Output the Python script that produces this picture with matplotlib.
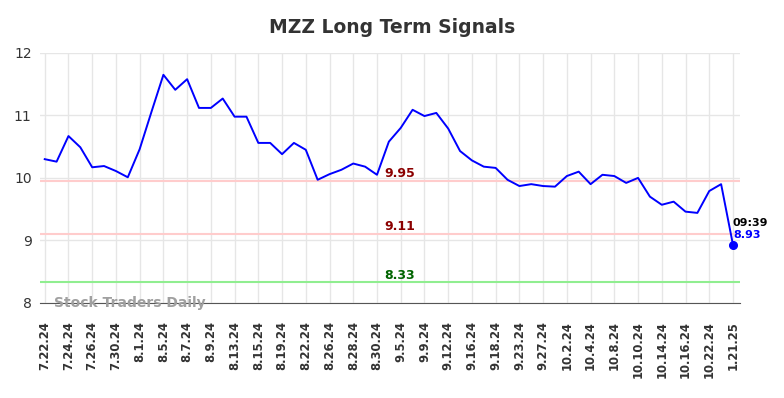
import numpy as np
import matplotlib
matplotlib.use("Agg")
import matplotlib.pyplot as plt

# ----------------------------------------------------------------
# data

prices = [10.30, 10.26, 10.67, 10.49, 10.17, 10.19, 10.11, 10.01, 10.46, 11.06,
          11.65, 11.41, 11.58, 11.12, 11.12, 11.27, 10.98, 10.98, 10.56, 10.56,
          10.38, 10.56, 10.45, 9.97, 10.06, 10.13, 10.23, 10.18, 10.05, 10.58,
          10.80, 11.09, 10.99, 11.04, 10.79, 10.43, 10.28, 10.18, 10.16, 9.97,
          9.87, 9.90, 9.87, 9.86, 10.03, 10.10, 9.90, 10.05, 10.03, 9.92,
          10.00, 9.70, 9.57, 9.62, 9.46, 9.44, 9.79, 9.90, 8.93]

tick_labels = ["7.22.24", "7.24.24", "7.26.24", "7.30.24", "8.1.24", "8.5.24",
               "8.7.24", "8.9.24", "8.13.24", "8.15.24", "8.19.24", "8.22.24",
               "8.26.24", "8.28.24", "8.30.24", "9.5.24", "9.9.24", "9.12.24",
               "9.16.24", "9.18.24", "9.23.24", "9.27.24", "10.2.24", "10.4.24",
               "10.8.24", "10.10.24", "10.14.24", "10.16.24", "10.22.24", "1.21.25"]

signal_levels = [9.95, 9.11, 8.33]
signal_line_colors = ["#ffcccc", "#ffcccc", "#90ee90"]
signal_text_colors = ["#8b0000", "#8b0000", "#006400"]

last_time = "09:39"
title = "MZZ Long Term Signals"

# ----------------------------------------------------------------

fig = plt.figure(figsize=(7.84, 3.98), dpi=100)
ax = fig.add_axes([0.051, 0.239, 0.893, 0.628])

x = np.arange(len(prices))
tick_pos = list(range(0, len(prices), 2))

ax.set_xlim(-0.4, len(prices) - 0.4)
ax.set_ylim(8, 12)
ax.set_yticks([8, 9, 10, 11, 12])

ax.grid(True, color="#e6e6e6", linewidth=1)
ax.set_axisbelow(True)
for s in ["top", "right", "left"]:
        ax.spines[s].set_visible(False)
ax.spines["bottom"].set_color("#555555")

# signal lines and labels
for lvl, lc, tc in zip(signal_levels, signal_line_colors, signal_text_colors):
        ax.axhline(lvl, color=lc, linewidth=1.5, zorder=1)
        ax.text(28.6, lvl + 0.01, f"{lvl:.2f}", color=tc, fontsize=9,
                fontweight="bold", va="bottom", ha="left")

ax.plot(x, prices, color="blue", linewidth=1.4, zorder=3)
ax.plot(x[-1], prices[-1], "o", color="blue", markersize=5.5, zorder=4)

ax.text(x[-1], prices[-1] + 0.27, last_time, color="black", fontsize=8,
        fontweight="bold", ha="left", va="bottom")
ax.text(x[-1], prices[-1] + 0.08, f"{prices[-1]:.2f}", color="blue", fontsize=8,
        fontweight="bold", ha="left", va="bottom")

ax.text(0.8, 8.0, "Stock Traders Daily", color="#a0a0a0", fontsize=10,
        fontweight="bold", va="center", ha="left")

ax.set_xticks(tick_pos)
ax.set_xticklabels(tick_labels, rotation=90, fontsize=8.4, fontweight="bold",
                   color="#333333")
ax.tick_params(axis="both", length=0)
ax.tick_params(axis="x", pad=13)
ax.tick_params(axis="y", labelsize=10, labelcolor="#333333", pad=6)

fig.suptitle(title, x=0.5, y=0.955, fontsize=13.5, fontweight="bold", color="#333333")

fig.savefig("out.png", dpi=100)
plt.close()
